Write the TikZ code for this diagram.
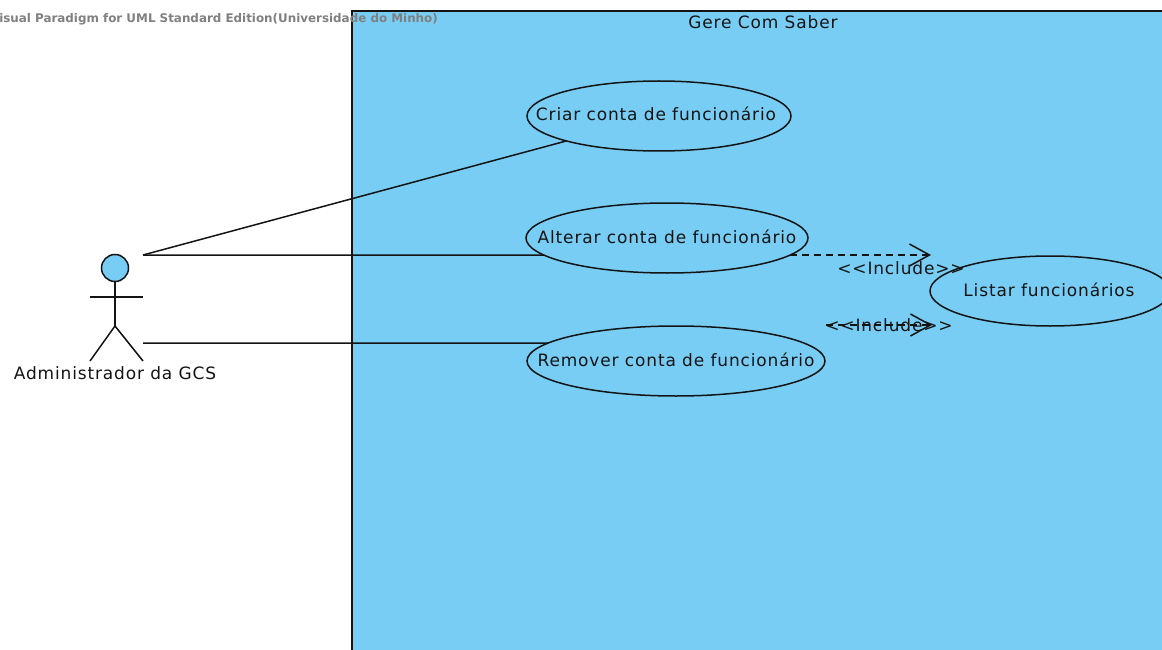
\documentclass[tikz,border=0pt]{standalone}
\usepackage{fontspec}
\setmainfont{DejaVu Sans}
\newfontfamily\spaced[LetterSpace=5]{DejaVu Sans}
\usetikzlibrary{shapes.geometric,arrows.meta}
\definecolor{skyfill}{HTML}{78CDF5}
\definecolor{inkc}{HTML}{141414}
\tikzset{
  line/.style={draw=inkc,line width=1.5pt},
  usecase/.style={ellipse,draw=inkc,line width=1.5pt,inner sep=0pt,outer sep=0pt,fill=skyfill},
  lbl/.style={text=inkc,inner sep=0pt,font=\spaced\fontsize{17}{19}\selectfont},
  incl/.style={line,dash pattern=on 7pt off 5pt,-{Straight Barb[length=20pt,width=22pt,line width=1.5pt]}},
}
\begin{document}
\begin{tikzpicture}[x=1pt,y=-1pt]
\useasboundingbox (0,0) rectangle (1162,650);
\clip (0,0) rectangle (1162,650);
\fill[white] (0,0) rectangle (1162,650);
\node[name=system,anchor=north west,draw=inkc,line width=1.5pt,fill=skyfill,minimum width=900pt,minimum height=700pt,inner sep=0pt,outer sep=0pt] at (352,11) {};
\node[name=watermark,anchor=east,inner sep=0pt,text=black!50,font=\fontsize{11.9}{13}\selectfont\bfseries] at (438,19) {Visual Paradigm for UML Standard Edition(Universidade do Minho)};
\node[name=title,lbl] at (763,22) {Gere Com Saber};
\node[name=criar,usecase,minimum width=264pt,minimum height=70pt] at (659,116) {};
\node[name=alterar,usecase,minimum width=282pt,minimum height=70pt] at (667,238) {};
\node[name=remover,usecase,minimum width=298pt,minimum height=70pt] at (676,361) {};
\node[name=listar,usecase,minimum width=240pt,minimum height=70pt] at (1050,291) {};
\node[name=criarT,lbl] at (656,114) {Criar conta de funcionário};
\node[name=alterarT,lbl] at (667,237) {Alterar conta de funcionário};
\node[name=removerT,lbl] at (676,360) {Remover conta de funcionário};
\node[name=listarT,lbl] at (1049,290) {Listar funcionários};
\node[name=head,circle,draw=inkc,line width=1.5pt,fill=skyfill,minimum size=27pt,inner sep=0pt,outer sep=0pt] at (115,268) {};
\coordinate (hip) at (115,326);
\coordinate (armL) at (90,297);
\coordinate (armR) at (143,297);
\coordinate (footL) at (90,361);
\coordinate (footR) at (143,361);
\draw[line] (head) -- (hip);
\draw[line] (armL) -- (armR);
\draw[line] (footL) -- (hip) -- (footR);
\node[name=actor,lbl] at (115,373) {Administrador da GCS};
\coordinate (a1) at (143,255);
\coordinate (a2) at (143,343);
\draw[line] (a1) -- (criar);
\draw[line] (a1) -- (alterar.188);
\draw[line] (a2) -- (remover.172);
\coordinate (i1s) at (790,255);
\coordinate (i1e) at (931,255);
\coordinate (i2s) at (826,325);
\coordinate (i2e) at (932,325);
\draw[incl] (i1s) -- (i1e);
\draw[incl] (i2s) -- (i2e);
\node[name=inc1,lbl] at (901,268) {{<}{<}Include{>}{>}};
\node[name=inc2,lbl] at (889,325) {{<}{<}Include{>}{>}};
\end{tikzpicture}
\end{document}
